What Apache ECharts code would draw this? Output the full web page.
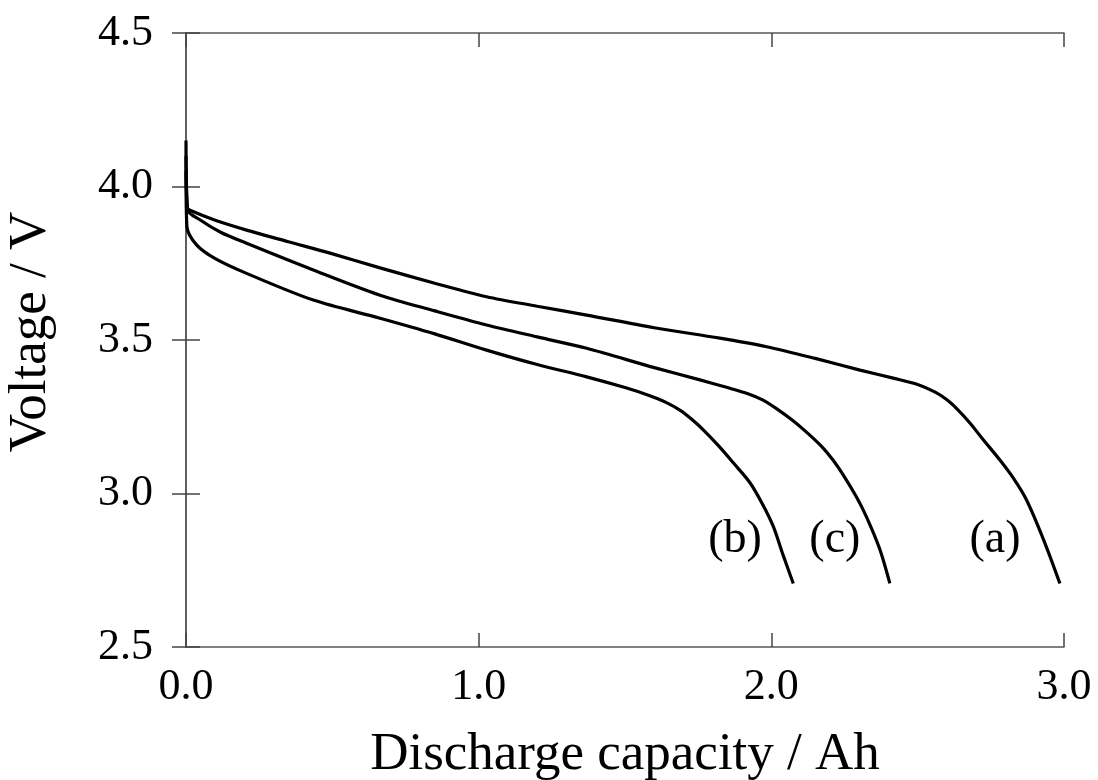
<!DOCTYPE html>
<html>
<head>
<meta charset="utf-8">
<script src="https://cdn.jsdelivr.net/npm/echarts@6/dist/echarts.min.js"></script>
<style>html,body{margin:0;padding:0;background:#fff}#c{width:1098px;height:780px}</style>
</head>
<body>
<div id="c"></div>
<script>
const xTicks = [0.0, 1.0, 2.0, 3.0];
const yTicks = [2.5, 3.0, 3.5, 4.0, 4.5];
const curveA = [[0,4.15],[0.005,3.93],[0.02,3.92],[0.1,3.89],[0.207,3.858],[0.35,3.82],[0.492,3.783],[0.663,3.735],[0.85,3.685],[1.027,3.641],[1.2,3.61],[1.369,3.581],[1.6,3.54],[1.824,3.506],[1.984,3.478],[2.15,3.44],[2.303,3.402],[2.42,3.375],[2.5,3.355],[2.56,3.33],[2.6,3.305],[2.64,3.27],[2.68,3.228],[2.72,3.18],[2.781,3.109],[2.827,3.05],[2.872,2.979],[2.93,2.85],[2.986,2.707]];
const curveC = [[0,4.1],[0.005,3.925],[0.05,3.89],[0.12,3.85],[0.207,3.815],[0.435,3.728],[0.663,3.646],[0.85,3.595],[1.027,3.549],[1.2,3.51],[1.369,3.473],[1.6,3.41],[1.756,3.37],[1.85,3.345],[1.92,3.325],[1.97,3.305],[2.02,3.275],[2.07,3.24],[2.12,3.2],[2.17,3.155],[2.21,3.11],[2.246,3.06],[2.29,2.99],[2.325,2.924],[2.37,2.82],[2.405,2.707]];
const curveB = [[0,4.05],[0.003,3.87],[0.036,3.81],[0.1,3.765],[0.207,3.717],[0.435,3.630],[0.663,3.571],[0.85,3.52],[1.027,3.467],[1.2,3.42],[1.369,3.380],[1.5,3.345],[1.58,3.32],[1.64,3.297],[1.69,3.27],[1.73,3.24],[1.77,3.205],[1.82,3.155],[1.87,3.1],[1.927,3.035],[1.97,2.965],[2.007,2.892],[2.04,2.80],[2.075,2.707]];
const curveLabels = ['(a)', '(b)', '(c)'];
const labelPos = [[2.764, 2.85], [1.876, 2.85], [2.217, 2.85]];

const font = 'Liberation Serif';
const axisLine = {show: true, lineStyle: {color: '#555', width: 1.5}};
const axisTick = {show: true, inside: true, length: 14, lineStyle: {color: '#444', width: 1.5}};
const chart = echarts.init(document.getElementById('c'));
const lineSeries = (d) => ({type: 'line', data: d, showSymbol: false, smooth: 0.3, lineStyle: {color: '#000', width: 3.2}, xAxisIndex: 0, yAxisIndex: 0, z: 3});
chart.setOption({
  animation: false,
  backgroundColor: '#fff',
  grid: {left: 186, right: 34, top: 33, bottom: 133, containLabel: false, outerBoundsMode: 'none'},
  xAxis: [
    {type: 'value', min: 0, max: 3, interval: 1, position: 'bottom',
     name: 'Discharge capacity / Ah', nameLocation: 'middle', nameGap: 82,
     nameTextStyle: {fontFamily: font, fontSize: 53, color: '#000'},
     axisLine, axisTick, splitLine: {show: false},
     axisLabel: {fontFamily: font, fontSize: 44, color: '#000', margin: 18, formatter: v => v.toFixed(1)}},
    {type: 'value', min: 0, max: 3, interval: 1, position: 'top',
     axisLine, axisTick, splitLine: {show: false}, axisLabel: {show: false}}
  ],
  yAxis: [
    {type: 'value', min: 2.5, max: 4.5, interval: 0.5, position: 'left',
     name: 'Voltage / V', nameLocation: 'middle', nameGap: 128, nameRotate: 90,
     nameTextStyle: {fontFamily: font, fontSize: 53, color: '#000', padding: [0, 0, 0, 16]},
     axisLine, axisTick, splitLine: {show: false},
     axisLabel: {fontFamily: font, fontSize: 44, color: '#000', margin: 33, formatter: v => v.toFixed(1)}},
    {type: 'value', min: 2.5, max: 4.5, interval: 0.5, position: 'right',
     axisLine, axisTick, splitLine: {show: false}, axisLabel: {show: false}}
  ],
  series: [
    lineSeries(curveA), lineSeries(curveB), lineSeries(curveC),
    {type: 'scatter', symbolSize: 0, xAxisIndex: 0, yAxisIndex: 0, itemStyle: {opacity: 1},
     data: labelPos.map((p, i) => ({value: p, name: curveLabels[i]})),
     label: {show: true, position: 'inside', formatter: p => p.name, fontFamily: font, fontSize: 46, color: '#000', opacity: 1}}
  ]
});
</script>
</body>
</html>
